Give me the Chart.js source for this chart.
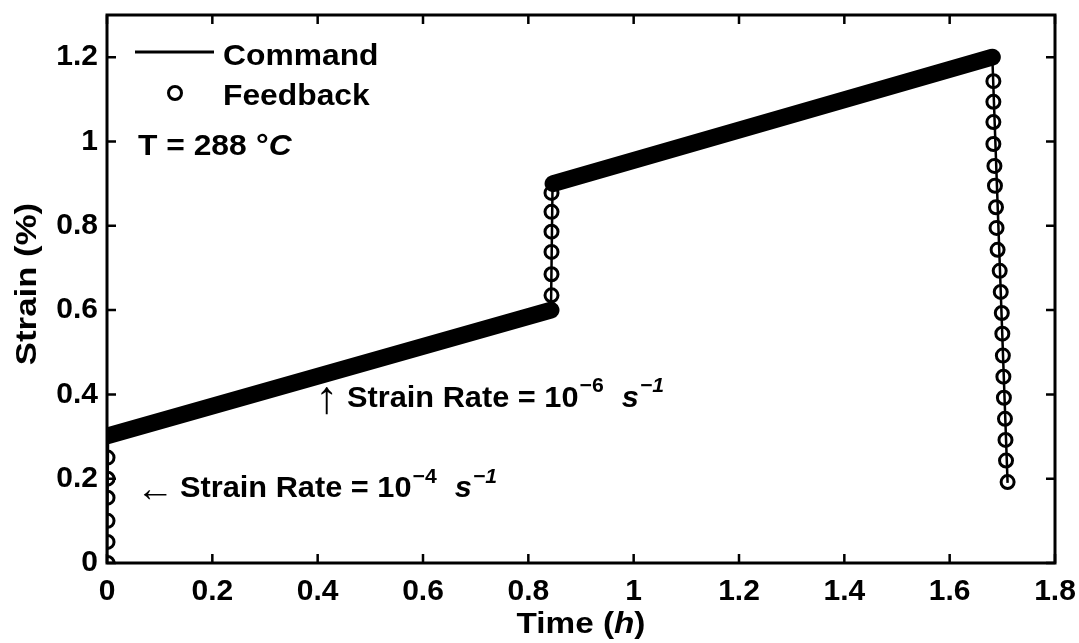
<!DOCTYPE html>
<html>
<head>
<meta charset="utf-8">
<title>Strain vs time</title>
<script src="https://cdn.jsdelivr.net/npm/chart.js@4.4.1/dist/chart.umd.min.js"></script>
<style>
  html, body { margin: 0; padding: 0; background: #fff; }
  #wrap { width: 1079px; height: 643px; }
</style>
</head>
<body>
<div id="wrap"><canvas id="strainChart" width="1079" height="643"></canvas></div>
<script>
// commanded strain path (time in h, strain in %)
const commandTime   = [0, 0.002, 0.843, 0.846, 1.681, 1.710];
const commandStrain = [0, 0.300, 0.600, 0.900, 1.200, 0.190];

// feedback on the slow ramps: samples so dense they merge into one band
const rampTime   = [0.002, 0.843, null, 0.847, 1.681];
const rampStrain = [0.302, 0.600, null, 0.900, 1.200];

// feedback samples on the fast segments
const loadTime     = [0.001, 0.001, 0.001, 0.001, 0.001, 0.001];
const loadStrain   = [0.000, 0.050, 0.100, 0.155, 0.200, 0.250];
const jumpTime     = [0.844, 0.844, 0.844, 0.844, 0.844, 0.844];
const jumpStrain   = [0.635, 0.685, 0.738, 0.786, 0.833, 0.878];
const unloadTime   = [1.683, 1.683, 1.683, 1.683, 1.685, 1.686, 1.688, 1.689, 1.691, 1.695,
                      1.697, 1.699, 1.700, 1.701, 1.702, 1.703, 1.705, 1.706, 1.707, 1.710];
const unloadStrain = [1.143, 1.094, 1.046, 0.994, 0.942, 0.895, 0.844, 0.795, 0.743, 0.693,
                      0.643, 0.593, 0.544, 0.492, 0.442, 0.392, 0.342, 0.292, 0.243, 0.192];

const xTicks = [0, 0.2, 0.4, 0.6, 0.8, 1, 1.2, 1.4, 1.6, 1.8];
const xTickLabels = ["0", "0.2", "0.4", "0.6", "0.8", "1", "1.2", "1.4", "1.6", "1.8"];
const yTicks = [0, 0.2, 0.4, 0.6, 0.8, 1, 1.2];
const yTickLabels = ["0", "0.2", "0.4", "0.6", "0.8", "1", "1.2"];

const FAMILY = '"Liberation Sans", Arial, sans-serif';
const ARROW_FAMILY = '"Liberation Serif", "DejaVu Serif", serif';
const bold = size => "bold " + size + "px " + FAMILY;
const boldItalic = size => "italic bold " + size + "px " + FAMILY;

function pairs(xs, ys) {
    return xs.map((x, i) => ({ x: x, y: ys[i] }));
}

// draws a row of text runs (mixed fonts / superscripts) on a baseline,
// sx widens the glyphs a little without changing their height
function drawRuns(ctx, x, y, runs, align, sx) {
    sx = sx || 1;
    ctx.textBaseline = "alphabetic";
    ctx.textAlign = "left";
    let total = 0;
    runs.forEach(r => {
        ctx.font = r.font;
        total += ctx.measureText(r.text).width + (r.dx || 0);
    });
    ctx.save();
    ctx.translate(x, y);
    ctx.scale(sx, 1);
    let cx = align === "center" ? -total / 2 : 0;
    runs.forEach(r => {
        ctx.font = r.font;
        cx += r.dx || 0;
        ctx.fillText(r.text, cx, r.dy || 0);
        cx += ctx.measureText(r.text).width;
    });
    ctx.restore();
}

const figureDecor = {
    id: "figureDecor",
    afterDraw(chart) {
        const ctx = chart.ctx;
        const area = chart.chartArea;
        const xs = chart.scales.x;
        const ys = chart.scales.y;
        const tick = 9;

        ctx.save();
        ctx.strokeStyle = "#000";
        ctx.fillStyle = "#000";

        // axes box with inward ticks on all four sides
        ctx.lineWidth = 3;
        ctx.strokeRect(area.left, area.top, area.right - area.left, area.bottom - area.top);
        ctx.lineWidth = 2.5;
        ctx.beginPath();
        xTicks.forEach(v => {
            const px = xs.getPixelForValue(v);
            ctx.moveTo(px, area.bottom);
            ctx.lineTo(px, area.bottom - tick);
            ctx.moveTo(px, area.top);
            ctx.lineTo(px, area.top + tick);
        });
        yTicks.forEach(v => {
            const py = ys.getPixelForValue(v);
            ctx.moveTo(area.left, py);
            ctx.lineTo(area.left + tick, py);
            ctx.moveTo(area.right, py);
            ctx.lineTo(area.right - tick, py);
        });
        ctx.stroke();

        // legend
        ctx.lineWidth = 3;
        ctx.beginPath();
        ctx.moveTo(135, 52);
        ctx.lineTo(214, 52);
        ctx.stroke();
        ctx.beginPath();
        ctx.arc(175, 93, 6.5, 0, Math.PI * 2);
        ctx.stroke();
        drawRuns(ctx, 223, 65, [{ text: "Command", font: bold(30) }], "left", 1.06);
        drawRuns(ctx, 223, 105, [{ text: "Feedback", font: bold(30) }], "left", 1.06);
        drawRuns(ctx, 138, 155, [{ text: "T = 288", font: bold(30) }], "left", 1.06);
        drawRuns(ctx, 256, 155, [
            { text: "°", font: bold(30) },
            { text: "C", font: boldItalic(30) }
        ], "left", 1.06);

        // strain rate notes
        drawRuns(ctx, 136, 501, [{ text: "\u2190", font: "38px " + ARROW_FAMILY }]);
        drawRuns(ctx, 180, 497, [
            { text: "Strain Rate = 10", font: bold(29) },
            { text: "\u22124", font: bold(20), dy: -14, dx: 1 },
            { text: " s", font: boldItalic(29), dx: 9 },
            { text: "\u22121", font: boldItalic(20), dy: -14, dx: 1 }
        ], "left", 1.06);
        drawRuns(ctx, 315, 413, [{ text: "\u2191", font: "46px " + ARROW_FAMILY }]);
        drawRuns(ctx, 347, 407, [
            { text: "Strain Rate = 10", font: bold(29) },
            { text: "\u22126", font: bold(20), dy: -15, dx: 1 },
            { text: " s", font: boldItalic(29), dx: 9 },
            { text: "\u22121", font: boldItalic(20), dy: -15, dx: 1 }
        ], "left", 1.06);

        // axis titles
        drawRuns(ctx, (area.left + area.right) / 2, 633, [
            { text: "Time (", font: bold(30) },
            { text: "h", font: boldItalic(30) },
            { text: ")", font: bold(30) }
        ], "center", 1.11);
        ctx.save();
        ctx.translate(36, 284);
        ctx.rotate(-Math.PI / 2);
        drawRuns(ctx, 0, 0, [{ text: "Strain (%)", font: bold(30) }], "center", 1.16);
        ctx.restore();

        ctx.restore();
    }
};

new Chart(document.getElementById("strainChart"), {
    type: "scatter",
    data: {
        datasets: [
            {
                label: "Command",
                data: pairs(commandTime, commandStrain),
                showLine: true,
                borderColor: "#000",
                borderWidth: 2.5,
                pointRadius: 0,
                fill: false
            },
            {
                label: "Feedback",
                data: pairs(loadTime, loadStrain)
                    .concat(pairs(jumpTime, jumpStrain))
                    .concat(pairs(unloadTime, unloadStrain)),
                showLine: false,
                pointStyle: "circle",
                pointRadius: 6.5,
                pointBorderWidth: 3,
                borderColor: "#000",
                backgroundColor: "rgba(0,0,0,0)"
            },
            {
                label: "Feedback ramp",
                data: pairs(rampTime, rampStrain),
                showLine: true,
                spanGaps: false,
                borderColor: "#000",
                borderWidth: 17,
                borderCapStyle: "round",
                borderJoinStyle: "round",
                pointRadius: 0
            }
        ]
    },
    options: {
        responsive: false,
        animation: false,
        devicePixelRatio: 1,
        layout: { padding: { left: 0, top: 15, right: 24, bottom: 0 } },
        plugins: {
            legend: { display: false },
            tooltip: { enabled: false }
        },
        scales: {
            x: {
                type: "linear",
                position: "bottom",
                min: 0,
                max: 1.8,
                grid: { display: false, drawTicks: false },
                border: { display: false },
                afterBuildTicks: scale => {
                    scale.ticks = xTicks.map(v => ({ value: v }));
                },
                afterFit: scale => {
                    scale.height = 80;
                    scale.paddingLeft = 0;
                    scale.paddingRight = 0;
                },
                ticks: {
                    color: "#000",
                    font: { family: FAMILY, size: 30, weight: "bold" },
                    padding: 11,
                    maxRotation: 0,
                    autoSkip: false,
                    callback: (value, index) => xTickLabels[index]
                }
            },
            y: {
                type: "linear",
                position: "left",
                min: 0,
                max: 1.3,
                grid: { display: false, drawTicks: false },
                border: { display: false },
                afterBuildTicks: scale => {
                    scale.ticks = yTicks.map(v => ({ value: v }));
                },
                afterFit: scale => {
                    scale.width = 107;
                    scale.paddingTop = 0;
                    scale.paddingBottom = 0;
                },
                ticks: {
                    color: "#000",
                    font: { family: FAMILY, size: 30, weight: "bold" },
                    padding: 9,
                    autoSkip: false,
                    callback: (value, index) => yTickLabels[index]
                }
            }
        }
    },
    plugins: [figureDecor]
});
</script>
</body>
</html>
